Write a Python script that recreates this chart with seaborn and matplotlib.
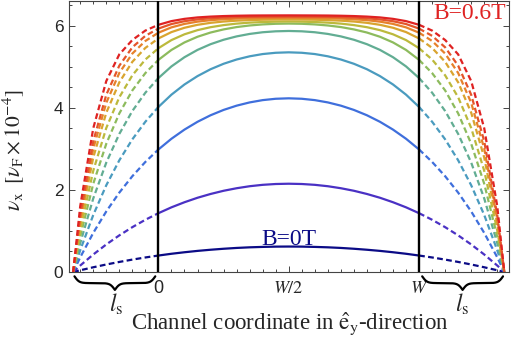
import numpy as np
import pandas as pd
import matplotlib
matplotlib.use('Agg')
import matplotlib.pyplot as plt
import matplotlib.transforms as mtransforms
from matplotlib.ticker import MultipleLocator
import seaborn as sns

# channel coordinate in units of W (slip length outside the channel)
y_pos = [-0.327, -0.30, -0.25, -0.20, -0.15, -0.10, -0.05, 0.00, 0.05, 0.10, 0.15, 0.20,
         0.25, 0.30, 0.35, 0.40, 0.45, 0.50, 0.55, 0.60, 0.65, 0.70, 0.75, 0.80, 0.85,
         0.90, 0.95, 1.00, 1.05, 1.10, 1.15, 1.20, 1.25, 1.30, 1.327]

B_labels = ['B=0T', 'B=0.06T', 'B=0.12T', 'B=0.18T', 'B=0.24T', 'B=0.3T',
            'B=0.36T', 'B=0.42T', 'B=0.48T', 'B=0.54T', 'B=0.6T']

# v_x in units of v_F x 1e-4
v_b00 = [0, 0.042, 0.115, 0.183, 0.245, 0.302, 0.354, 0.401, 0.444, 0.481, 0.514, 0.542, 0.566, 0.586, 0.601, 0.611, 0.618,
         0.62,
         0.618, 0.611, 0.601, 0.586, 0.566, 0.542, 0.514, 0.481, 0.444, 0.401, 0.354, 0.302, 0.245, 0.183, 0.115, 0.042, 0]
v_b06 = [0, 0.157, 0.426, 0.671, 0.892, 1.092, 1.272, 1.432, 1.575, 1.699, 1.808, 1.900, 1.978, 2.040, 2.089, 2.123, 2.143,
         2.15,
         2.143, 2.123, 2.089, 2.040, 1.978, 1.900, 1.808, 1.699, 1.575, 1.432, 1.272, 1.092, 0.892, 0.671, 0.426, 0.157, 0]
v_b12 = [0, 0.356, 0.952, 1.475, 1.933, 2.333, 2.681, 2.984, 3.245, 3.468, 3.658, 3.817, 3.947, 4.051, 4.130, 4.186, 4.219,
         4.23,
         4.219, 4.186, 4.130, 4.051, 3.947, 3.817, 3.658, 3.468, 3.245, 2.984, 2.681, 2.333, 1.933, 1.475, 0.952, 0.356, 0]
v_b18 = [0, 0.529, 1.388, 2.112, 2.720, 3.231, 3.660, 4.019, 4.319, 4.567, 4.771, 4.938, 5.071, 5.175, 5.253, 5.308, 5.339,
         5.35,
         5.339, 5.308, 5.253, 5.175, 5.071, 4.938, 4.771, 4.567, 4.319, 4.019, 3.660, 3.231, 2.720, 2.112, 1.388, 0.529, 0]
v_b24 = [0, 0.699, 1.791, 2.664, 3.363, 3.921, 4.367, 4.723, 5.007, 5.231, 5.409, 5.548, 5.656, 5.738, 5.798, 5.839, 5.862,
         5.87,
         5.862, 5.839, 5.798, 5.738, 5.656, 5.548, 5.409, 5.231, 5.007, 4.723, 4.367, 3.921, 3.363, 2.664, 1.791, 0.699, 0]
v_b30 = [0, 0.860, 2.148, 3.123, 3.862, 4.422, 4.845, 5.166, 5.408, 5.591, 5.729, 5.832, 5.908, 5.965, 6.004, 6.030, 6.045,
         6.05,
         6.045, 6.030, 6.004, 5.965, 5.908, 5.832, 5.729, 5.591, 5.408, 5.166, 4.845, 4.422, 3.862, 3.123, 2.148, 0.860, 0]
v_b36 = [0, 1.011, 2.464, 3.507, 4.255, 4.790, 5.175, 5.450, 5.648, 5.789, 5.890, 5.962, 6.013, 6.049, 6.073, 6.088, 6.097,
         6.10,
         6.097, 6.088, 6.073, 6.049, 6.013, 5.962, 5.890, 5.789, 5.648, 5.450, 5.175, 4.790, 4.255, 3.507, 2.464, 1.011, 0]
v_b42 = [0, 1.173, 2.787, 3.879, 4.619, 5.119, 5.458, 5.688, 5.843, 5.948, 6.020, 6.068, 6.100, 6.121, 6.135, 6.144, 6.149,
         6.15,
         6.149, 6.144, 6.135, 6.121, 6.100, 6.068, 6.020, 5.948, 5.843, 5.688, 5.458, 5.119, 4.619, 3.879, 2.787, 1.173, 0]
v_b48 = [0, 1.284, 3.003, 4.120, 4.847, 5.320, 5.627, 5.828, 5.958, 6.042, 6.097, 6.133, 6.156, 6.171, 6.180, 6.186, 6.189,
         6.19,
         6.189, 6.186, 6.180, 6.171, 6.156, 6.133, 6.097, 6.042, 5.958, 5.828, 5.627, 5.320, 4.847, 4.120, 3.003, 1.284, 0]
v_b54 = [0, 1.383, 3.183, 4.315, 5.025, 5.472, 5.752, 5.928, 6.039, 6.108, 6.152, 6.179, 6.196, 6.207, 6.214, 6.218, 6.219,
         6.22,
         6.219, 6.218, 6.214, 6.207, 6.196, 6.179, 6.152, 6.108, 6.039, 5.928, 5.752, 5.472, 5.025, 4.315, 3.183, 1.383, 0]
v_b60 = [0, 1.60, 3.50, 4.65, 5.30, 5.65, 5.88, 6.02, 6.11, 6.165, 6.20, 6.22, 6.233, 6.241, 6.246, 6.248, 6.249,
         6.25,
         6.249, 6.248, 6.246, 6.241, 6.233, 6.22, 6.20, 6.165, 6.11, 6.02, 5.88, 5.65, 5.30, 4.65, 3.50, 1.60, 0]

profiles = [v_b00, v_b06, v_b12, v_b18, v_b24, v_b30, v_b36, v_b42, v_b48, v_b54, v_b60]
colors = ['#0b0b86', '#4a31c4', '#3f6fdc', '#4a9bbf', '#62ad93', '#8dbb5d',
          '#bcb93c', '#d9a42f', '#e6812b', '#e4552a', '#df2222']

# long-form table: solid part inside the channel, dashed part in the slip region
rows = []
for lab, vals in zip(B_labels, profiles):
    for yy, vv in zip(y_pos, vals):
        if 0 <= yy <= 1:
            rows.append((lab, yy, vv, 'in', 'C'))
        if yy <= 0:
            rows.append((lab, yy, vv, 'out', 'L'))
        if yy >= 1:
            rows.append((lab, yy, vv, 'out', 'R'))
df = pd.DataFrame(rows, columns=['B', 'y', 'v', 'region', 'side'])

sns.set_style('ticks')
plt.rcParams['font.family'] = ['Liberation Serif', 'DejaVu Serif']
plt.rcParams['mathtext.fontset'] = 'stix'

fig = plt.figure(figsize=(5.16, 3.45), dpi=100)
ax = fig.add_axes([69 / 516, 1 - 272 / 345, 440 / 516, 271 / 345])

pal = dict(zip(B_labels, colors))
sns.lineplot(data=df[df.region == 'in'], x='y', y='v', hue='B', hue_order=B_labels,
             palette=pal, estimator=None, lw=1.6, legend=False, ax=ax)
sns.lineplot(data=df[df.region == 'out'], x='y', y='v', hue='B', hue_order=B_labels,
             units='side', estimator=None, palette=pal, lw=1.6,
             linestyle=(0, (2.6, 1.5)), legend=False, ax=ax)

ax.axvline(0, color='black', lw=1.7, zorder=5)
ax.axvline(1, color='black', lw=1.7, zorder=5)

ax.set_xlim(-0.343, 1.345)
ax.set_ylim(0, 6.6)
ax.set_xticks([0, 0.5, 1])
ax.set_xticklabels(['0', '$W/2$', '$W$'])
ax.xaxis.set_minor_locator(MultipleLocator(0.05))
ax.yaxis.set_major_locator(MultipleLocator(2))
ax.yaxis.set_minor_locator(MultipleLocator(0.5))
ax.tick_params(which='both', direction='in', top=True, right=True, width=0.7, color='#444444')
ax.tick_params(which='major', length=4)
ax.tick_params(which='minor', length=2.5)
ax.tick_params(axis='y', labelsize=12.5, labelfontfamily='Liberation Sans', pad=4)
ax.tick_params(axis='x', labelsize=13, pad=6)
xt = ax.get_xticklabels()
xt[0].set_fontfamily('Liberation Sans')
xt[0].set_fontsize(13)
for sp in ax.spines.values():
    sp.set_linewidth(0.8)
    sp.set_color('#444444')
ax.set_xlabel('')
ax.set_ylabel(r'$\nu_{\rm x}\;\;[\nu_{\rm F}\times10^{-4}]$', fontsize=15.5)
ax.yaxis.set_label_coords(-0.095, 0.45)

ax.text(0.5, 0.66, 'B=0T', color=colors[0], fontsize=17, ha='center', va='baseline')
ax.text(1.335, 6.15, 'B=0.6T', color=colors[-1], fontsize=17, ha='right', va='baseline')


# curly braces marking the slip length below the axis
def brace(ax, x0, x1, top, depth, beta=110.0):
    trans = mtransforms.blended_transform_factory(ax.transData, ax.transAxes)
    n = 201
    xs = np.linspace(x0, x1, n)
    xh = xs[:n // 2 + 1]
    yh = 1 / (1 + np.exp(-beta * (xh - xh[0]))) + 1 / (1 + np.exp(-beta * (xh - xh[-1])))
    yh = (yh - yh[0]) / (yh[-1] - yh[0])
    yb = np.concatenate([yh, yh[-2::-1]])
    ax.plot(xs, top - depth * yb, color='black', lw=1.6, transform=trans, clip_on=False)


ls = -y_pos[0]
brace(ax, -ls + 0.005, -0.012, -0.016, 0.05)
brace(ax, 1.012, 1 + ls - 0.005, -0.016, 0.05)
for xc in (-ls / 2, 1 + ls / 2):
    ax.text(xc, -0.118, r'$l_{\rm s}$', fontsize=17, ha='center', va='center',
            transform=mtransforms.blended_transform_factory(ax.transData, ax.transAxes))

fig.text(0.562, 1 - 330 / 345, r'Channel coordinate in $\hat{\rm e}_{\rm y}$-direction',
         fontsize=16.5, ha='center', va='baseline')

fig.savefig('out.png', dpi=100)
